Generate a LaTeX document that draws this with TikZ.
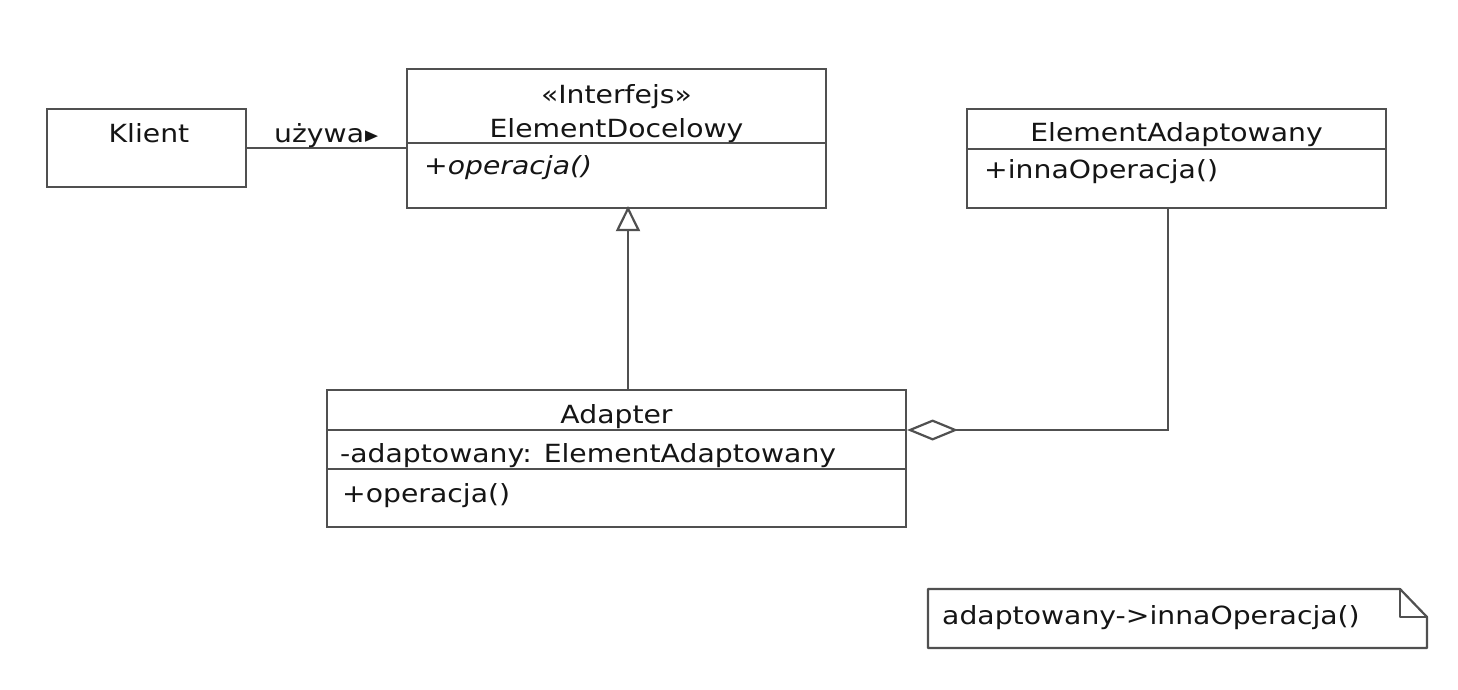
\documentclass[tikz,border=0pt]{standalone}
\usepackage{fontspec}
\setmainfont{DejaVu Sans}[FakeStretch=1.13]
\usetikzlibrary{arrows.meta}
\definecolor{umlline}{HTML}{505050}
\definecolor{umltext}{HTML}{151515}

\begin{document}
\begin{tikzpicture}[x=1pt, y=-1pt,
  font=\fontsize{25}{29}\selectfont,
  box/.style={draw=umlline, line width=2.2pt, rectangle, inner sep=0pt, fill=white},
  lbl/.style={anchor=base, text=umltext, inner sep=0pt},
  lblw/.style={anchor=base west, text=umltext, inner sep=0pt},
  rule/.style={draw=umlline, line width=2.2pt},
  conn/.style={draw=umlline, line width=2.2pt}]
\useasboundingbox[fill=white] (0,0) rectangle (1458,689);

% class boxes
\node[box, minimum width=199pt, minimum height=78pt]  (klient)  at (146.5,148)   {};
\node[box, minimum width=419pt, minimum height=139pt] (iface)   at (616.5,138.5) {};
\node[box, minimum width=419pt, minimum height=99pt]  (adaptee) at (1176.5,158.5) {};
\node[box, minimum width=579pt, minimum height=137pt] (adapter) at (616.5,458.5) {};

% compartment dividers
\draw[rule] (iface.west |- 0,143) -- (iface.east |- 0,143);
\draw[rule] (adaptee.west |- 0,149) -- (adaptee.east |- 0,149);
\draw[rule] (adapter.west |- 0,430) -- (adapter.east |- 0,430);
\draw[rule] (adapter.west |- 0,469) -- (adapter.east |- 0,469);

% texts
\node[lbl] (klient-name) at (149,142) {Klient};
\node[lbl] (iface-st) at (616.5,103) {«Interfejs»};
\node[lbl] (iface-name) at (616.5,137) {ElementDocelowy};
\node[lblw] (iface-op) at (424,174) {\itshape +operacja()};
\node[lbl] (adaptee-name) at (1176.5,141) {ElementAdaptowany};
\node[lblw] (adaptee-op) at (984,178) {+innaOperacja()};
\node[lbl] (adapter-name) at (616.5,423) {Adapter};
\node[lblw] (adapter-att) at (340,462.5) {-adaptowany: ElementAdaptowany};
\node[lblw] (adapter-op) at (342,502) {+operacja()};

% association with reading direction
\draw[conn] (klient.east) -- (klient.east -| iface.west);
\node[lblw] (uses) at (274,142) {używa\hspace{1pt}\raisebox{1.5pt}{\fontsize{15}{18}\selectfont▶}};

% generalization
\draw[conn, -{Triangle[open, length=25pt, width=24pt]}]
  ([xshift=11.5pt]adapter.north) -- ([xshift=11.5pt,yshift=3pt]iface.south);

% aggregation
\coordinate (aggr) at (adapter.east |- 0,430);
\draw[conn, {Diamond[open, length=51pt, width=21pt]}-]
  (aggr) -| ([xshift=-8.5pt]adaptee.south);

% note
\node[lblw] (note) at (942,624.5) {adaptowany->innaOperacja()};
\draw[rule, line join=round] (928,589) -- (1400,589) -- (1427,617) -- (1427,648) -- (928,648) -- cycle;
\draw[rule, line join=round] (1400,589) -- (1400,617) -- (1427,617);
\end{tikzpicture}
\end{document}
